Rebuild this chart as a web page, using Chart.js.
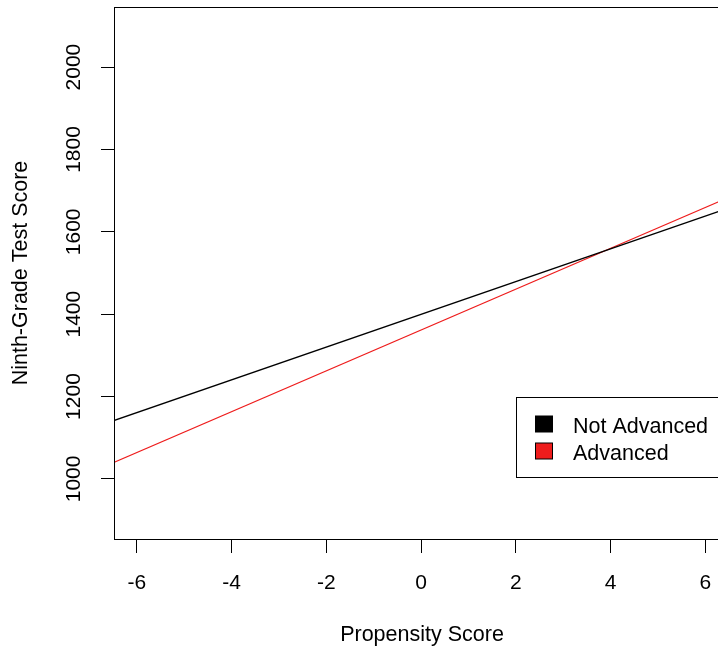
<!DOCTYPE html>
<html>
<head>
<meta charset="utf-8">
<script src="https://cdn.jsdelivr.net/npm/chart.js@4.4.1/dist/chart.umd.min.js"></script>
<style>
  html, body { margin: 0; padding: 0; background: #fff; overflow: hidden; }
  #wrap { width: 740px; height: 649px; }
</style>
</head>
<body>
<div id="wrap"><canvas id="chart" width="740" height="649"></canvas></div>
<script>
// fitted lines (ends of the plotting region)
const propensity = [-6.5, 6.5];
const notAdvanced = [1141, 1658];
const advanced = [1039, 1684];
const seriesNames = ['Not Advanced', 'Advanced'];
const seriesColors = ['#000000', '#ee1c1c'];
const xTicks = [-6, -4, -2, 0, 2, 4, 6];
const yTicks = [1000, 1200, 1400, 1600, 1800, 2000];

const FONT = 'Liberation Sans, Arial, Helvetica, sans-serif';

function toPoints(ys) {
    return propensity.map((x, i) => ({ x: x, y: ys[i] }));
}

// box around the plot, rotated y labels and the legend
const decorations = {
    id: 'decorations',
    afterDraw(chart) {
        const ctx = chart.ctx;
        const a = chart.chartArea;
        ctx.save();
        ctx.strokeStyle = '#000';
        ctx.lineWidth = 1;
        ctx.strokeRect(a.left + 0.5, a.top + 0.5, a.right - a.left, a.bottom - a.top);

        // y tick labels, reading upward like R
        const y = chart.scales.y;
        ctx.fillStyle = '#000';
        ctx.font = '21px ' + FONT;
        ctx.textAlign = 'center';
        ctx.textBaseline = 'middle';
        yTicks.forEach(v => {
            ctx.save();
            ctx.translate(74, y.getPixelForValue(v));
            ctx.rotate(-Math.PI / 2);
            ctx.fillText(String(v), 0, 0);
            ctx.restore();
        });

        // legend
        const lx = 516, ly = 397;
        ctx.fillStyle = '#fff';
        ctx.fillRect(lx, ly, 240, 80);
        ctx.strokeRect(lx + 0.5, ly + 0.5, 240, 80);
        ctx.textAlign = 'left';
        ctx.font = '21.5px ' + FONT;
        seriesNames.forEach((name, i) => {
            const cy = 424 + i * 27;
            ctx.fillStyle = seriesColors[i];
            ctx.fillRect(535.5, cy - 8, 17, 16);
            ctx.strokeStyle = '#000';
            ctx.strokeRect(535.5, cy - 8, 17, 16);
            ctx.fillStyle = '#000';
            ctx.fillText(name, 573, cy + 3);
        });
        ctx.restore();
    }
};

new Chart(document.getElementById('chart'), {
    type: 'scatter',
    data: {
        datasets: [
            { label: seriesNames[0], data: toPoints(notAdvanced), borderColor: seriesColors[0] },
            { label: seriesNames[1], data: toPoints(advanced), borderColor: seriesColors[1] }
        ].map(d => Object.assign(d, { showLine: true, borderWidth: 1.3, pointRadius: 0, fill: false }))
    },
    options: {
        responsive: false,
        animation: false,
        layout: { padding: { top: 7, right: 10, left: 0, bottom: 0 } },
        plugins: { legend: { display: false }, tooltip: { enabled: false } },
        scales: {
            x: {
                type: 'linear',
                min: -6.48,
                max: 6.52,
                afterFit(scale) { scale.height = 110; },
                afterBuildTicks(scale) { scale.ticks = xTicks.map(v => ({ value: v })); },
                grid: { drawOnChartArea: false, drawTicks: true, tickLength: 14, color: '#000' },
                border: { color: '#000' },
                ticks: { color: '#000', font: { family: FONT, size: 21 }, padding: 18, maxRotation: 0 },
                title: { display: true, text: 'Propensity Score', color: '#000', font: { family: FONT, size: 21.5 }, padding: { top: 0, bottom: 1 } }
            },
            y: {
                type: 'linear',
                min: 854,
                max: 2146,
                afterFit(scale) { scale.width = 114; },
                afterBuildTicks(scale) { scale.ticks = yTicks.map(v => ({ value: v })); },
                grid: { drawOnChartArea: false, drawTicks: true, tickLength: 13, color: '#000' },
                border: { color: '#000' },
                ticks: { display: false },
                title: { display: true, text: 'Ninth-Grade Test Score', color: '#000', font: { family: FONT, size: 21.5 }, padding: { top: 8, bottom: 0 } }
            }
        }
    },
    plugins: [decorations]
});
</script>
</body>
</html>
